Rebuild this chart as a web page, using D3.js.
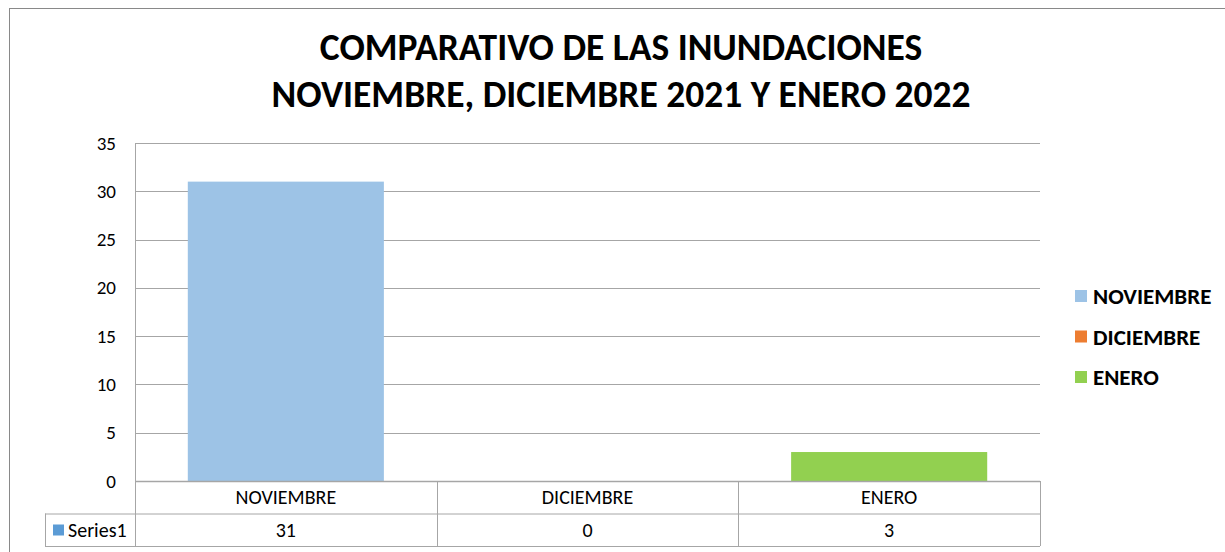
<!DOCTYPE html>
<html>
<head>
<meta charset="utf-8">
<script src="https://cdn.jsdelivr.net/npm/d3@7"></script>
<style>
  body { margin: 0; background: #fff; }
  svg { font-family: Carlito, Lato, "Open Sans", sans-serif; }
</style>
</head>
<body>
<div id="chart"></div>
<script>
const categories = ["NOVIEMBRE", "DICIEMBRE", "ENERO"];
const values = [31, 0, 3];
const colors = ["#9dc3e6", "#ed7d31", "#92d050"];
const seriesName = "Series1";
const titleLines = ["COMPARATIVO DE LAS INUNDACIONES", "NOVIEMBRE, DICIEMBRE 2021 Y ENERO 2022"];
const yTicks = [0, 5, 10, 15, 20, 25, 30, 35];

const W = 1225, H = 552;
const margin = { top: 143, left: 135, right: 185, bottom: 71 };
const width = W - margin.left - margin.right,   // 905
      height = H - margin.top - margin.bottom;  // 338
const rowH = 32.5;

const svg = d3.select("#chart").append("svg")
    .attr("width", W)
    .attr("height", H);

// outer chart frame
svg.append("rect")
    .attr("x", 9.5).attr("y", 8.5)
    .attr("width", W).attr("height", H)
    .attr("fill", "none")
    .attr("stroke", "#898989");

// title
svg.append("g").selectAll("text")
  .data(titleLines)
  .join("text")
    .attr("x", 621)
    .attr("y", (d, i) => 60 + i * 47)
    .attr("text-anchor", "middle")
    .attr("font-size", 37.5)
    .attr("font-weight", "bold")
    .attr("fill", "#000")
    .text(d => d);

const g = svg.append("g")
    .attr("transform", "translate(" + margin.left + "," + margin.top + ")");

const x = d3.scaleBand().domain(categories).range([0, width]).paddingInner(0.35).paddingOuter(0.175);
const xCol = d3.scaleBand().domain(categories).range([0, width]);
const y = d3.scaleLinear().domain([0, 35]).range([height, 0]);

// grid lines
g.append("g")
  .selectAll("line")
  .data(yTicks.filter(t => t > 0))
  .join("line")
    .attr("x1", 0).attr("x2", width)
    .attr("y1", d => Math.round(y(d)) + 0.5)
    .attr("y2", d => Math.round(y(d)) + 0.5)
    .attr("stroke", "#a6a6a6");

// y axis labels
const yAxis = g.append("g")
    .call(d3.axisLeft(y).tickValues(yTicks).tickSize(0).tickPadding(19));
yAxis.select(".domain").remove();
yAxis.selectAll("text")
    .attr("font-size", 19)
    .attr("font-family", "Carlito, Lato, 'Open Sans', sans-serif")
    .attr("fill", "#000");

// bars
g.append("g")
  .selectAll("rect")
  .data(categories)
  .join("rect")
    .attr("x", d => x(d))
    .attr("width", x.bandwidth())
    .attr("y", (d, i) => y(values[i]))
    .attr("height", (d, i) => y(0) - y(values[i]))
    .attr("fill", (d, i) => colors[i]);

// data table
const tbl = g.append("g").attr("transform", "translate(0," + height + ")");
const lineColor = "#a6a6a6";

// horizontal lines
tbl.append("line").attr("x1", 0).attr("x2", width).attr("y1", 0.5).attr("y2", 0.5).attr("stroke", lineColor).attr("stroke-width", 1.5);
tbl.append("line").attr("x1", -90).attr("x2", width).attr("y1", rowH + 0.5).attr("y2", rowH + 0.5).attr("stroke", lineColor);
tbl.append("line").attr("x1", -90).attr("x2", width).attr("y1", 2 * rowH + 0.5).attr("y2", 2 * rowH + 0.5).attr("stroke", lineColor);
// left of series row
tbl.append("line").attr("x1", -89.5).attr("x2", -89.5).attr("y1", rowH).attr("y2", 2 * rowH).attr("stroke", lineColor);

// vertical axis line through table
g.append("line").attr("x1", 0.5).attr("x2", 0.5).attr("y1", 0).attr("y2", height + 2 * rowH).attr("stroke", lineColor);

tbl.append("g")
  .selectAll("line")
  .data(categories)
  .join("line")
    .attr("x1", d => Math.round(xCol(d) + xCol.bandwidth()) + 0.5)
    .attr("x2", d => Math.round(xCol(d) + xCol.bandwidth()) + 0.5)
    .attr("y1", 0).attr("y2", 2 * rowH)
    .attr("stroke", lineColor);

tbl.append("g")
  .selectAll("text")
  .data(categories)
  .join("text")
    .attr("x", d => xCol(d) + xCol.bandwidth() / 2)
    .attr("y", 23)
    .attr("text-anchor", "middle")
    .attr("font-size", 20)
    .attr("fill", "#000")
    .text(d => d);

tbl.append("g")
  .selectAll("text")
  .data(values)
  .join("text")
    .attr("x", (d, i) => xCol(categories[i]) + xCol.bandwidth() / 2)
    .attr("y", rowH + 23)
    .attr("text-anchor", "middle")
    .attr("font-size", 20)
    .attr("fill", "#000")
    .text(d => d);

tbl.append("rect")
    .attr("x", -82).attr("y", rowH + 11)
    .attr("width", 11).attr("height", 11)
    .attr("fill", "#5b9bd5");
tbl.append("text")
    .attr("x", -67).attr("y", rowH + 23)
    .attr("font-size", 20)
    .attr("fill", "#000")
    .text(seriesName);

// legend
const legend = svg.append("g")
    .attr("transform", "translate(1075,290)");
const li = legend.selectAll("g")
  .data(categories)
  .join("g")
    .attr("transform", (d, i) => "translate(0," + i * 40.5 + ")");
li.append("rect")
    .attr("width", 12).attr("height", 12)
    .attr("fill", (d, i) => colors[i]);
li.append("text")
    .attr("x", 18).attr("y", 14)
    .attr("font-size", 23)
    .attr("font-weight", "bold")
    .attr("fill", "#000")
    .text(d => d);
</script>
</body>
</html>
